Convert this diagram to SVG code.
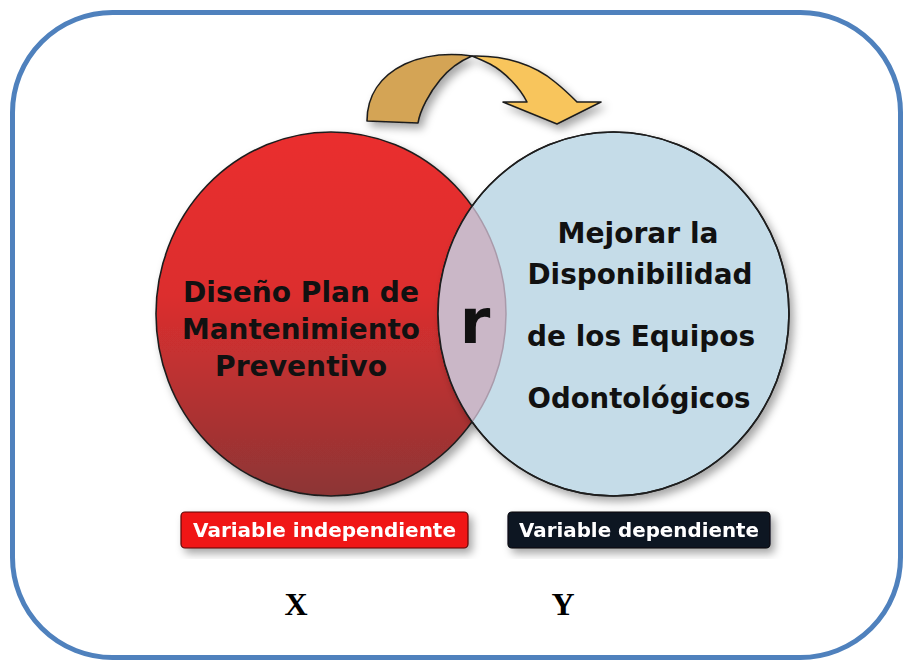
<svg xmlns="http://www.w3.org/2000/svg" width="903" height="661" viewBox="0 0 903 661">
  <defs>
    <linearGradient id="redGrad" x1="0" y1="0" x2="0" y2="1">
      <stop offset="0" stop-color="#ea2f2f"/>
      <stop offset="0.45" stop-color="#dc2e2e"/>
      <stop offset="1" stop-color="#8c3535"/>
    </linearGradient>
    <filter id="shadow" x="-20%" y="-20%" width="150%" height="150%">
      <feDropShadow dx="4" dy="5" stdDeviation="4" flood-color="#000" flood-opacity="0.35"/>
    </filter>
    <clipPath id="blueClip">
      <ellipse cx="613.5" cy="314" rx="175.5" ry="182"/>
    </clipPath>
    <style>
      .circ { font-family: "DejaVu Sans", "Liberation Sans", sans-serif; font-weight: bold; font-size: 29px; fill: #111; text-anchor: middle; }
      .lbl { font-family: "DejaVu Sans", "Liberation Sans", sans-serif; font-weight: bold; font-size: 19px; fill: #fff; text-anchor: middle; }
      .xy { font-family: "Liberation Serif", "Times New Roman", serif; font-weight: bold; font-size: 32px; fill: #000; text-anchor: middle; }
      .outline { stroke: #1e1e1e; stroke-width: 1.6; }
    </style>
  </defs>

  <rect x="12.5" y="12.5" width="888" height="645" rx="100" ry="100" fill="#fff" stroke="#4f81bd" stroke-width="5"/>

  <g id="arrow" filter="url(#shadow)">
    <path d="M367,121 C367,96 380,76 405,64 C425,55 450,53 472,56 C460,61 448,70 440,80 C430,92 420,110 418,123 Z" fill="#d4a454" class="outline" stroke-linejoin="round"/>
    <path d="M472,56 C505,55 535,65 555,82 C565,90 572,97 577,102 L601,102 L557,124 L503,102 L527,102 C520,88 505,72 490,64 C482,60 477,58 472,56 Z" fill="#f8c55b" class="outline" stroke-linejoin="round"/>
  </g>

  <g id="node-x">
    <ellipse cx="331" cy="314" rx="175" ry="182" fill="url(#redGrad)" class="outline" filter="url(#shadow)"/>
  </g>

  <g id="node-y">
    <ellipse cx="613.5" cy="314" rx="175.5" ry="182" fill="#c5dce8" class="outline" filter="url(#shadow)"/>
  </g>

  <g id="intersection">
    <ellipse cx="331" cy="314" rx="175" ry="182" fill="#cab7c7" stroke="#a99aaa" stroke-width="1.5" clip-path="url(#blueClip)"/>
    <ellipse cx="613.5" cy="314" rx="175.5" ry="182" fill="none" class="outline"/>
    <text x="475" y="343" font-family="DejaVu Sans, Liberation Sans, sans-serif" font-weight="bold" font-size="62" fill="#111" text-anchor="middle">r</text>
  </g>

  <g id="text-x">
    <text class="circ" x="301" y="302" textLength="236" lengthAdjust="spacingAndGlyphs">Diseño Plan de</text>
    <text class="circ" x="301" y="339" textLength="238" lengthAdjust="spacingAndGlyphs">Mantenimiento</text>
    <text class="circ" x="301" y="376" textLength="172" lengthAdjust="spacingAndGlyphs">Preventivo</text>
  </g>

  <g id="text-y">
    <text class="circ" x="638" y="243" textLength="161" lengthAdjust="spacingAndGlyphs">Mejorar la</text>
    <text class="circ" x="640" y="284" textLength="225" lengthAdjust="spacingAndGlyphs">Disponibilidad</text>
    <text class="circ" x="641" y="346" textLength="228" lengthAdjust="spacingAndGlyphs">de los Equipos</text>
    <text class="circ" x="639" y="408" textLength="223" lengthAdjust="spacingAndGlyphs">Odontológicos</text>
  </g>

  <g id="label-independiente" filter="url(#shadow)">
    <rect x="181" y="512" width="287" height="36" rx="4" fill="#f01414" stroke="#5a0a0a" stroke-width="1.2"/>
    <text class="lbl" x="324.5" y="537" textLength="263" lengthAdjust="spacingAndGlyphs">Variable independiente</text>
  </g>

  <g id="label-dependiente" filter="url(#shadow)">
    <rect x="508" y="512" width="262" height="36" rx="4" fill="#0e1424" stroke="#05070d" stroke-width="1.2"/>
    <text class="lbl" x="639" y="537" textLength="240" lengthAdjust="spacingAndGlyphs">Variable dependiente</text>
  </g>

  <g id="axis-labels">
    <text class="xy" x="296" y="615">X</text>
    <text class="xy" x="563" y="615">Y</text>
  </g>
</svg>
